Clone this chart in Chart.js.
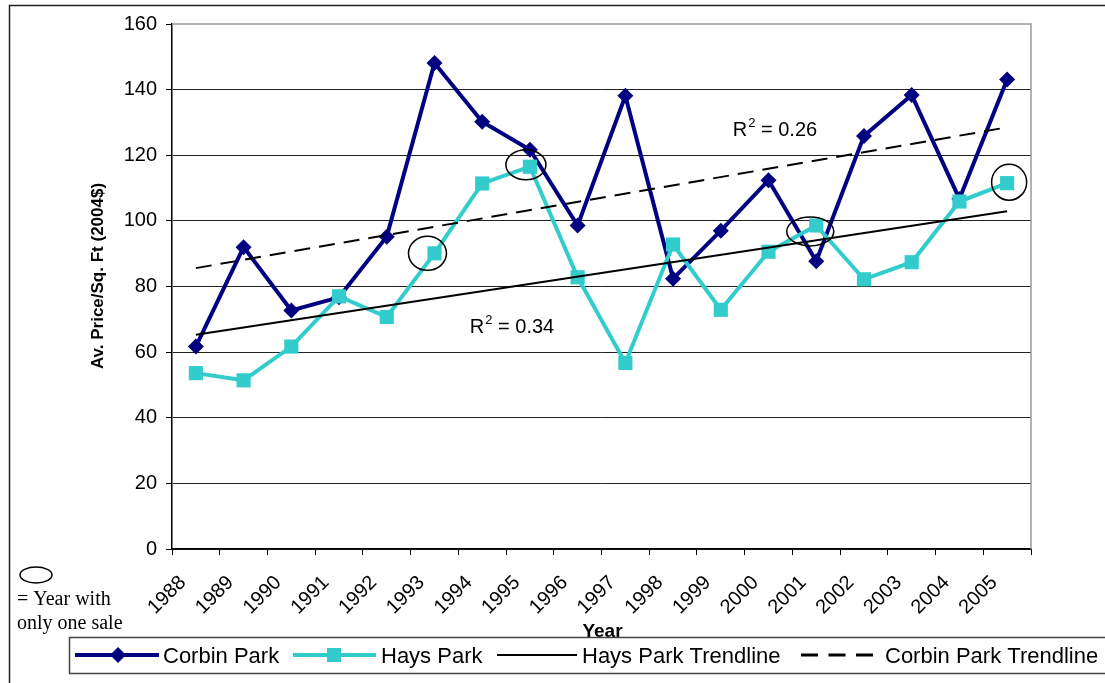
<!DOCTYPE html>
<html>
<head>
<meta charset="utf-8">
<title>Average price per square foot, Corbin Park and Hays Park</title>
<script src="https://cdn.jsdelivr.net/npm/chart.js@4/dist/chart.umd.min.js"></script>
<style>
  html, body { margin: 0; padding: 0; background: #fff; }
  #wrap { width: 1105px; height: 683px; position: relative; }
  canvas { display: block; }
</style>
</head>
<body>
<div id="wrap"><canvas id="c" width="1105" height="683"></canvas></div>
<script>
// Sale years
const years = ['1988','1989','1990','1991','1992','1993','1994','1995','1996',
               '1997','1998','1999','2000','2001','2002','2003','2004','2005'];

// Average price per square foot (2004 dollars)
const corbinPark = [61.7, 92.0, 72.7, 76.7, 95.2, 148.1, 130.2, 121.7, 98.6,
                    138.1, 82.4, 97.0, 112.4, 87.7, 125.9, 138.4, 106.7, 143.1];
const haysPark   = [53.6, 51.4, 61.7, 77.0, 70.7, 90.1, 111.4, 116.5, 82.8,
                    56.7, 92.8, 72.9, 90.6, 98.6, 82.2, 87.4, 105.9, 111.5];

// Linear trendlines: value at first and last year
const haysTrendEnds   = [65.3, 102.9];
const corbinTrendEnds = [85.6, 128.5];

// Coefficients of determination shown beside the trendlines
const haysR2   = '0.34';
const corbinR2 = '0.26';

// Hays Park years with a single recorded sale
const singleSaleYears = ['1993', '1995', '2001', '2005'];

// Value axis ticks
const yTickValues = [0, 20, 40, 60, 80, 100, 120, 140, 160];

// ---- styling ----
const NAVY = '#000080';
const TEAL = '#33CCCC';
const SANS = '"Liberation Sans", Arial, Helvetica, sans-serif';
const SERIF = '"Liberation Serif", "Times New Roman", serif';

// ring outlines around single-sale points: offset from the point and radii
const ringShapes = {
  '1993': { dx: -7, dy: 0,  rx: 19,   ry: 17 },
  '1995': { dx: -4, dy: -2, rx: 20,   ry: 15 },
  '2001': { dx: -6, dy: 6,  rx: 23.5, ry: 14.5 },
  '2005': { dx: 2,  dy: -1, rx: 17.5, ry: 18 }
};

// a trendline spans first to last year; intermediate entries are gaps
function trendSeries(ends) {
  return years.map((_, i) => i === 0 ? ends[0] : (i === years.length - 1 ? ends[1] : null));
}

function catX(xs, idx) {
  const p0 = xs.getPixelForValue(0), p1 = xs.getPixelForValue(1);
  return p0 + idx * (p1 - p0);
}

function drawR2(ctx, x, y, val) {
  ctx.save();
  ctx.fillStyle = '#000';
  ctx.textBaseline = 'alphabetic';
  ctx.textAlign = 'left';
  ctx.font = '20px ' + SANS;
  ctx.fillText('R', x, y);
  const w = ctx.measureText('R').width;
  ctx.font = '13px ' + SANS;
  ctx.fillText('2', x + w + 1, y - 9);
  const w2 = ctx.measureText('2').width;
  ctx.font = '20px ' + SANS;
  ctx.fillText(' = ' + val, x + w + w2 + 1, y);
  ctx.restore();
}

const decorations = {
  id: 'decorations',
  afterDatasetsDraw(chart) {
    const ctx = chart.ctx;
    const xs = chart.scales.x, ys = chart.scales.y;
    const area = chart.chartArea;

    // grey border on the top and right sides of the plot area
    ctx.save();
    ctx.strokeStyle = '#999';
    ctx.lineWidth = 1.5;
    ctx.beginPath();
    ctx.moveTo(area.left, area.top);
    ctx.lineTo(area.right, area.top);
    ctx.lineTo(area.right, area.bottom);
    ctx.stroke();
    ctx.restore();

    // rings marking single-sale years on the Hays Park series
    ctx.save();
    ctx.strokeStyle = '#000';
    ctx.lineWidth = 1.5;
    singleSaleYears.forEach(yr => {
      const i = years.indexOf(yr);
      const s = ringShapes[yr];
      const cx = xs.getPixelForValue(i) + s.dx;
      const cy = ys.getPixelForValue(haysPark[i]) + s.dy;
      ctx.beginPath();
      ctx.ellipse(cx, cy, s.rx, s.ry, 0, 0, Math.PI * 2);
      ctx.stroke();
    });
    ctx.restore();

    // R-squared labels
    drawR2(ctx, catX(xs, 5.74), ys.getPixelForValue(65.7), haysR2);
    drawR2(ctx, catX(xs, 11.25), ys.getPixelForValue(125.9), corbinR2);
  },
  afterDraw(chart) {
    const ctx = chart.ctx;
    const area = chart.chartArea;
    ctx.save();

    // outer frame (top and left edges)
    ctx.strokeStyle = '#222';
    ctx.lineWidth = 1.5;
    ctx.beginPath();
    ctx.moveTo(9.5, 700);
    ctx.lineTo(9.5, 5.5);
    ctx.lineTo(1110, 5.5);
    ctx.stroke();

    // axis titles
    ctx.fillStyle = '#000';
    ctx.font = 'bold 17px ' + SANS;
    ctx.textAlign = 'center';
    ctx.textBaseline = 'middle';
    ctx.save();
    ctx.translate(98, 276);
    ctx.rotate(-Math.PI / 2);
    ctx.fillText('Av. Price/Sq. Ft (2004$)', 0, 0);
    ctx.restore();

    ctx.font = 'bold 19px ' + SANS;
    ctx.textBaseline = 'alphabetic';
    ctx.fillText('Year', (area.left + area.right) / 2 + 1, 637);

    // key for the ring marks
    ctx.strokeStyle = '#000';
    ctx.lineWidth = 1.5;
    ctx.beginPath();
    ctx.ellipse(36, 575, 16, 8, 0, 0, Math.PI * 2);
    ctx.stroke();
    ctx.font = '20px ' + SERIF;
    ctx.textAlign = 'left';
    ctx.fillText('= Year with', 17, 605);
    ctx.fillText('only one sale', 17, 629);

    // legend box
    ctx.fillStyle = '#fff';
    ctx.fillRect(69.5, 637.5, 1050, 36);
    ctx.strokeStyle = '#444';
    ctx.lineWidth = 1.5;
    ctx.strokeRect(69.5, 637.5, 1050, 36);

    const ly = 655;
    ctx.lineCap = 'butt';
    // Corbin Park
    ctx.strokeStyle = NAVY; ctx.lineWidth = 4;
    ctx.beginPath(); ctx.moveTo(75, ly); ctx.lineTo(159, ly); ctx.stroke();
    ctx.fillStyle = NAVY;
    ctx.beginPath();
    ctx.moveTo(118 - 8, ly); ctx.lineTo(118, ly - 8); ctx.lineTo(118 + 8, ly); ctx.lineTo(118, ly + 8);
    ctx.closePath(); ctx.fill();
    // Hays Park
    ctx.strokeStyle = TEAL; ctx.lineWidth = 4;
    ctx.beginPath(); ctx.moveTo(293, ly); ctx.lineTo(376, ly); ctx.stroke();
    ctx.fillStyle = TEAL;
    ctx.fillRect(334 - 7, ly - 7, 14, 14);
    // Hays Park trendline
    ctx.strokeStyle = '#000'; ctx.lineWidth = 2;
    ctx.beginPath(); ctx.moveTo(497, ly); ctx.lineTo(577, ly); ctx.stroke();
    // Corbin Park trendline
    ctx.lineWidth = 3;
    ctx.setLineDash([17, 10.5]);
    ctx.beginPath(); ctx.moveTo(801, ly); ctx.lineTo(873, ly); ctx.stroke();
    ctx.setLineDash([]);

    ctx.fillStyle = '#000';
    ctx.font = '22px ' + SANS;
    ctx.textBaseline = 'alphabetic';
    const tb = 663;
    ctx.fillText('Corbin Park', 163, tb);
    ctx.fillText('Hays Park', 381, tb);
    ctx.fillText('Hays Park Trendline', 582, tb);
    ctx.fillText('Corbin Park Trendline', 885, tb);

    ctx.restore();
  }
};

new Chart(document.getElementById('c'), {
  type: 'line',
  data: {
    labels: years,
    datasets: [
      {
        label: 'Corbin Park Trendline',
        data: trendSeries(corbinTrendEnds),
        borderColor: '#000',
        borderWidth: 2,
        borderDash: [16, 9],
        pointRadius: 0,
        spanGaps: true,
        order: 1
      },
      {
        label: 'Hays Park Trendline',
        data: trendSeries(haysTrendEnds),
        borderColor: '#000',
        borderWidth: 2,
        pointRadius: 0,
        spanGaps: true,
        order: 2
      },
      {
        label: 'Hays Park',
        data: haysPark,
        borderColor: TEAL,
        backgroundColor: TEAL,
        borderWidth: 4,
        pointStyle: 'rect',
        pointRadius: 10,
        pointBorderWidth: 0,
        order: 3
      },
      {
        label: 'Corbin Park',
        data: corbinPark,
        borderColor: NAVY,
        backgroundColor: NAVY,
        borderWidth: 4,
        pointStyle: 'rectRot',
        pointRadius: 8,
        pointBorderWidth: 0,
        order: 4
      }
    ]
  },
  options: {
    responsive: false,
    animation: false,
    devicePixelRatio: 1,
    layout: { padding: { left: 0, right: 74, top: 24, bottom: 0 } },
    plugins: {
      legend: { display: false },
      tooltip: { enabled: false },
      title: { display: false }
    },
    elements: { line: { tension: 0 } },
    scales: {
      x: {
        type: 'category',
        offset: true,
        afterFit(scale) { scale.height = 134; },
        grid: {
          offset: true,
          drawOnChartArea: false,
          drawTicks: true,
          tickLength: 6,
          tickColor: '#000',
          lineWidth: 1
        },
        border: { color: '#000', width: 1.5 },
        ticks: {
          color: '#000',
          font: { family: SANS, size: 20 },
          minRotation: 45,
          maxRotation: 45,
          autoSkip: false,
          padding: 16,
          labelOffset: -13
        }
      },
      y: {
        min: 0,
        max: 160,
        afterFit(scale) { scale.width = 172; },
        afterBuildTicks(scale) { scale.ticks = yTickValues.map(v => ({ value: v })); },
        grid: {
          color: c => (c.tick && c.tick.value === 160) ? 'rgba(0,0,0,0)' : '#222',
          lineWidth: 1,
          drawTicks: true,
          tickLength: 6,
          tickColor: '#000'
        },
        border: { color: '#000', width: 1.5 },
        ticks: {
          color: '#000',
          font: { family: SANS, size: 20 },
          padding: 9
        }
      }
    }
  },
  plugins: [decorations]
});
</script>
</body>
</html>
